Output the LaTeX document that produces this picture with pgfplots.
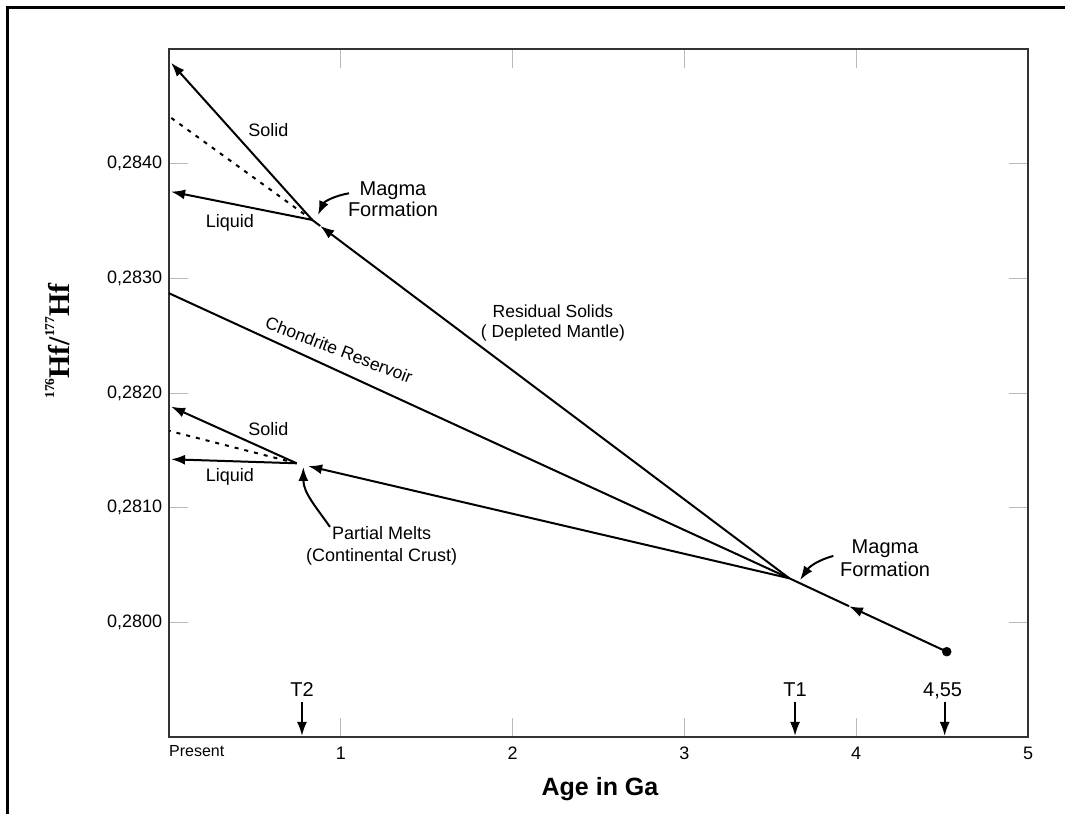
\documentclass[border=0pt]{standalone}
\usepackage{pgfplots}
\pgfplotsset{compat=1.18}
\usepackage{fontspec}
\setmainfont{Liberation Sans}
\newfontfamily\seriffont{Liberation Serif}
\usetikzlibrary{arrows.meta}

\tikzset{ln/.style={black, line width=2pt},
         arr/.style={ln, -{Latex[length=14pt,width=10pt]}}}

\begin{document}
\begin{tikzpicture}[x=1pt,y=1pt]
\useasboundingbox (0,0) rectangle (1065,814);
\fill[white] (0,0) rectangle (1065,814);
\draw[line width=3.5pt] (7.5,0) -- (7.5,806.5) -- (1065,806.5);

\begin{axis}[
  at={(169pt,77pt)}, anchor=south west,
  scale only axis, width=859pt, height=688pt,
  xmin=0, xmax=5, ymin=0.2790, ymax=0.2850,
  xtick={0,1,2,3,4,5}, xticklabels={,1,2,3,4,5},
  ytick={0.2800,0.2810,0.2820,0.2830,0.2840},
  yticklabels={{0,2800},{0,2810},{0,2820},{0,2830},{0,2840}},
  tick align=inside, major tick length=19pt,
  tick style={draw=gray!55, line width=1pt},
  axis line style={line width=2pt, draw=black!80},
  every tick label/.append style={font=\fontsize{18}{21}\selectfont},
  xticklabel style={anchor=north, inner sep=0pt, yshift=-9.7pt},
  yticklabel style={anchor=east, inner sep=0pt, xshift=-6.7pt},
  cycle list={{black, line width=2pt, mark=none}},
  clip=false,
]
% initial reservoir from 4.55 Ga to T1
\addplot[arr] coordinates {(4.527,0.279744) (3.958,0.280141)};
\addplot[ln] coordinates {(3.958,0.280141) (3.611,0.280384)};
% chondrite reservoir
\addplot[ln] coordinates {(3.611,0.280384) (0,0.28287)};
% residual solids (depleted mantle)
\addplot[arr] coordinates {(3.611,0.280384) (0.88,0.283457)};
\addplot[ln] coordinates {(0.88,0.283457) (0.834,0.283509)};
% upper solid / dotted / liquid
\addplot[arr] coordinates {(0.834,0.283509) (0.012,0.28488)};
\addplot[ln, dash pattern=on 4pt off 6pt] coordinates {(0.834,0.283509) (0.003,0.28441)};
\addplot[arr] coordinates {(0.834,0.283509) (0.012,0.283756)};
% partial melts (continental crust)
\addplot[arr] coordinates {(3.611,0.280384) (0.81,0.281363)};
% lower solid / dotted / liquid
\addplot[arr] coordinates {(0.743,0.281387) (0.012,0.281881)};
\addplot[ln, dash pattern=on 4pt off 6pt] coordinates {(0.743,0.281387) (0.003,0.281669)};
\addplot[arr] coordinates {(0.743,0.281387) (0.012,0.281422)};
% starting point
\addplot[black, only marks, mark=*, mark size=4.5pt] coordinates {(4.527,0.279744)};
% time markers
\addplot[arr] coordinates {(0.774,0.279308) (0.774,0.279009)};
\addplot[arr] coordinates {(3.644,0.279308) (3.644,0.279009)};
\addplot[arr] coordinates {(4.515,0.279308) (4.515,0.279009)};

\node[anchor=base, font=\fontsize{20}{22}\selectfont] at (axis cs:0.774,0.279352) {T2};
\node[anchor=base, font=\fontsize{20}{22}\selectfont] at (axis cs:3.644,0.279352) {T1};
\node[anchor=base, font=\fontsize{20}{22}\selectfont] at (axis cs:4.503,0.279352) {4,55};

\node[font=\fontsize{18}{21}\selectfont] at (axis cs:0.578,0.284294) {Solid};
\node[font=\fontsize{18}{21}\selectfont] at (axis cs:0.355,0.283480) {Liquid};
\node[font=\fontsize{18}{21}\selectfont] at (axis cs:0.578,0.281684) {Solid};
\node[font=\fontsize{18}{21}\selectfont] at (axis cs:0.355,0.281265) {Liquid};

\node[align=center, font=\fontsize{20}{21.5}\selectfont] at (axis cs:1.304,0.283688) {Magma\\Formation};
\node[align=center, font=\fontsize{20}{22.5}\selectfont] at (axis cs:4.168,0.280559) {Magma\\Formation};
\node[align=center, font=\fontsize{17.5}{20}\selectfont] at (axis cs:2.235,0.282608) {Residual Solids\\( Depleted Mantle)};
\node[align=center, font=\fontsize{18}{22}\selectfont] at (axis cs:1.238,0.280666) {Partial Melts\\(Continental Crust)};
\node[rotate=-21, font=\fontsize{17.5}{20}\selectfont] at (axis cs:0.99,0.282375) {Chondrite Reservoir};

\draw[arr] (axis cs:1.048,0.283742) to[out=190,in=65] (axis cs:0.867,0.283552);
\draw[arr] (axis cs:3.867,0.280579) to[out=195,in=55] (axis cs:3.673,0.280369);
\draw[arr] (axis cs:0.937,0.280832) to[out=125,in=-90] (axis cs:0.782,0.281355);
\end{axis}

\node[anchor=north west, inner sep=0pt, font=\fontsize{16}{18}\selectfont] at (169,69) {Present};
\node[anchor=base, font=\bfseries\fontsize{25}{28}\selectfont] at (600,19) {Age in Ga};
\node[rotate=90, anchor=base, font=\seriffont\bfseries\fontsize{30}{32}\selectfont] at (69,473)
  {\raisebox{15pt}{\fontsize{13.5}{14}\selectfont 176}Hf/\raisebox{15pt}{\fontsize{13.5}{14}\selectfont 177}Hf};
\end{tikzpicture}
\end{document}
